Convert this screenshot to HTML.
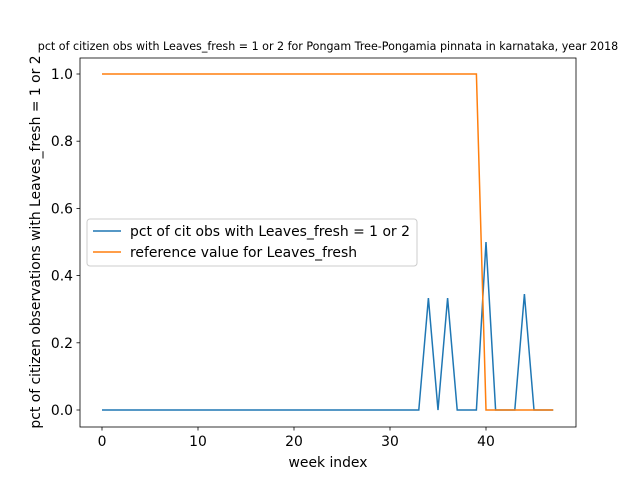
<!DOCTYPE html>
<html><head><meta charset="utf-8"><style>
body{margin:0;background:#fff;}
svg text{font-family:"DejaVu Sans","Liberation Sans",sans-serif;fill:#000;}
</style></head><body>
<svg width="640" height="480" viewBox="0 0 640 480">
<text x="328" y="50" font-size="11.1" text-anchor="middle">pct of citizen obs with Leaves_fresh = 1 or 2 for Pongam Tree-Pongamia pinnata in karnataka, year 2018</text>
<g id="plot"></g>
<rect x="80" y="58" width="496" height="369" fill="none" stroke="#000" stroke-width="0.8"/>
<text x="328" y="467" font-size="13.9" text-anchor="middle">week index</text>
<text transform="translate(40,242) rotate(-90)" font-size="13.9" text-anchor="middle">pct of citizen observations with Leaves_fresh = 1 or 2</text>
<g>
<rect x="87" y="219" width="330" height="47" rx="3" fill="#fff" fill-opacity="0.8" stroke="#ccc"/>
<line x1="93" y1="231" x2="121" y2="231" stroke="#1f77b4" stroke-width="1.5"/>
<text x="130" y="236" font-size="13.9">pct of cit obs with Leaves_fresh = 1 or 2</text>
<line x1="93" y1="252" x2="121" y2="252" stroke="#ff7f0e" stroke-width="1.5"/>
<text x="130" y="257" font-size="13.9">reference value for Leaves_fresh</text>
</g>
</svg>
<script>
const weeks=[];for(let i=0;i<48;i++)weeks.push(i);
const obsPct=[0,0,0,0,0,0,0,0,0,0,0,0,0,0,0,0,0,0,0,0,0,0,0,0,0,0,0,0,0,0,0,0,0,0,0.333,0,0.333,0,0,0,0.5,0,0,0,0.345,0,0,0];
const refVal=[1,1,1,1,1,1,1,1,1,1,1,1,1,1,1,1,1,1,1,1,1,1,1,1,1,1,1,1,1,1,1,1,1,1,1,1,1,1,1,1,0,0,0,0,0,0,0,0];
const xTicks=[0,10,20,30,40];
const yTicks=[0.0,0.2,0.4,0.6,0.8,1.0];
const NS="http://www.w3.org/2000/svg";
const xs=v=>102+v*9.6, ys=v=>410-v*336;
const g=document.getElementById('plot');
function mk(t,a){const e=document.createElementNS(NS,t);for(const k in a)e.setAttribute(k,a[k]);g.appendChild(e);return e;}
xTicks.forEach(t=>{
 const l=mk('line',{x1:xs(t),x2:xs(t),y1:427,y2:430.5,stroke:'#000','stroke-width':0.8});
 
 
 const tx=mk('text',{x:xs(t),y:446,'font-size':13.9,'text-anchor':'middle'});tx.textContent=t;
 
 
});
yTicks.forEach(t=>{
 const l=mk('line',{x1:76.5,x2:80,y1:ys(t),y2:ys(t),stroke:'#000','stroke-width':0.8});
 
 
 const tx=mk('text',{x:73,y:ys(t)+5,'font-size':13.9,'text-anchor':'end'});tx.textContent=t.toFixed(1);
 
 
});
function line(d,c,n){const p=mk('polyline',{points:weeks.map((w,i)=>xs(w)+','+ys(d[i])).join(' '),fill:'none',stroke:c,'stroke-width':1.5});
 
 }
line(obsPct,'#1f77b4','obs-pct-line');
line(refVal,'#ff7f0e','reference-line');
</script>
</body></html>
